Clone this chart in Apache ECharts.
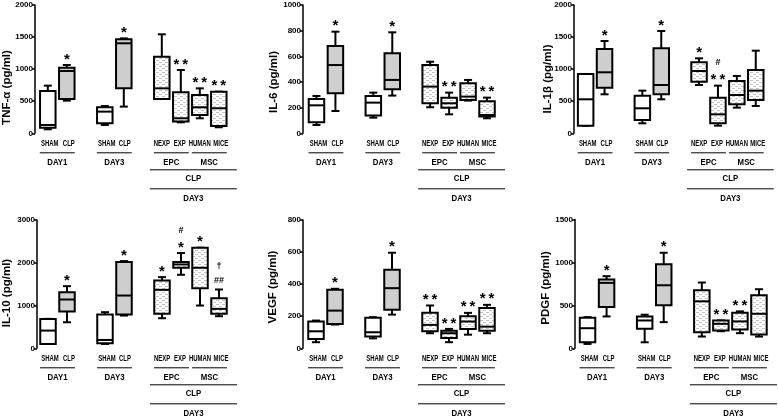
<!DOCTYPE html>
<html><head><meta charset="utf-8">
<script src="https://cdn.jsdelivr.net/npm/echarts@6/dist/echarts.min.js"></script>
<style>html,body{margin:0;padding:0;background:#fff}#c{width:778px;height:419px}</style>
</head><body><div id="c"></div>
<script>
// ---------- DATA ----------
const categories = ['SHAM','CLP','','SHAM','CLP','','NEXP','EXP','HUMAN','MICE'];
const groupSlots = [0,1,3,4,6,7,8,9];
// each box: [min, Q1, median, Q3, max]
const tnfBoxes = [[62,88,130,660,743],[509,535,971,1023,1065],[130,156,338,405,426],[416,701,1403,1465,1480],[535,535,701,1195,1543],[171,182,234,639,987],[234,286,405,597,701],[94,114,390,649,649]];
const tnfMarks = ['','*','','*','','**','**','**'];
const il6Boxes = [[65,86,218,268,291],[174,312,532,681,792],[122,138,239,291,317],[294,343,416,623,787],[203,234,364,532,558],[148,200,234,278,317],[255,260,286,390,416],[117,130,143,249,278]];
const il6Marks = ['','*','','*','','**','','**'];
const il1bBoxes = [[119,119,530,925,925],[608,712,951,1314,1439],[156,208,390,587,665],[530,608,753,1325,1595],[753,805,971,1106,1169],[119,156,296,556,743],[400,452,597,816,894],[426,519,665,987,1288]];
const il1bMarks = ['','*','','*','*','#\n**','',''];
const il10Boxes = [[102,102,414,688,688],[609,859,1141,1313,1453],[102,117,195,789,844],[766,789,1234,2016,2039],[703,805,1367,1586,1664],[1719,1883,1961,2016,2227],[1000,1406,1883,2352,2352],[750,805,922,1172,1375]];
const il10Marks = ['','*','','*','*','#\n*','*','\u2020\n##'];
const vegfBoxes = [[38,58,106,167,173],[148,152,235,365,371],[62,73,100,190,194],[210,240,375,490,596],[94,106,146,221,267],[38,65,94,110,121],[85,121,167,200,221],[94,110,135,252,271]];
const vegfMarks = ['','*','','*','**','**','**','**'];
const pdgfBoxes = [[51,70,234,355,363],[371,480,762,801,840],[70,227,324,371,391],[305,500,734,980,1113],[137,188,547,676,766],[199,207,285,324,324],[176,219,313,414,430],[137,160,402,617,688]];
const pdgfMarks = ['','*','','*','','**','**',''];
const titles = ['TNF-\u03b1 (pg/ml)','IL-6 (pg/ml)','IL-1\u03b2 (pg/ml)','IL-10 (pg/ml)','VEGF (pg/ml)','PDGF (pg/ml)'];
const yMax = [2000,1000,2000,3000,800,1500];
const yStep = [500,200,500,1000,200,500];
const pairLabels = ['DAY1','DAY3'];
const subLabels = ['EPC','MSC'];
const clpLabel = 'CLP';
const day3Label = 'DAY3';

// ---------- LAYOUT / STYLE ----------
const FONT = '"Liberation Sans",Arial,sans-serif';
const layout = [
  {left:38.3,width:190,top:5,height:128.3,axisX:35,tx:7,ty:87.5},
  {left:307,width:189.5,top:5,height:128.3,axisX:303,tx:274,ty:82},
  {left:576.2,width:189,top:5,height:128.3,axisX:574,tx:548,ty:79},
  {left:38.5,width:190,top:220,height:128.3,axisX:37,tx:7,ty:293},
  {left:306.5,width:190,top:220,height:128.3,axisX:303,tx:273,ty:287},
  {left:578,width:190.5,top:219.5,height:128.8,axisX:575,tx:546,ty:288}
];
const boxesAll = [tnfBoxes,il6Boxes,il1bBoxes,il10Boxes,vegfBoxes,pdgfBoxes];
const marksAll = [tnfMarks,il6Marks,il1bMarks,il10Marks,vegfMarks,pdgfMarks];
const slotFill = ['white','gray','', 'white','gray','', 'dot','dot','dot','dot'];
const labelShift = [2,2,0,2,1,0,0,-1,0,2];
const GRAY = '#cfcfcf';

function makePattern(){
  const c = document.createElement('canvas'); c.width = 6; c.height = 4;
  const g = c.getContext('2d');
  g.fillStyle = '#ffffff'; g.fillRect(0,0,6,4);
  g.fillStyle = '#c4c4c4'; g.fillRect(0,0,3,1); g.fillRect(3,2,3,1);
  return c;
}
const PATTERN = {image: makePattern(), repeat: 'repeat'};

function makeRender(marks){
  return function(params, api){
    const slot = api.value(0);
    const x = api.coord([slot, 0])[0];
    const ys = [1,2,3,4,5].map(d => api.coord([slot, api.value(d)])[1]);
    const yMin = ys[0], yQ1 = ys[1], yMed = ys[2], yQ3 = ys[3], yMx = ys[4];
    const bw = 15.5, cw = 8;
    const ls = {stroke:'#000', lineWidth:2};
    const f = slotFill[slot] === 'gray' ? GRAY : (slotFill[slot] === 'dot' ? PATTERN : '#fff');
    const children = [
      {type:'line', shape:{x1:x,y1:yQ3,x2:x,y2:yMx}, style:ls},
      {type:'line', shape:{x1:x,y1:yQ1,x2:x,y2:yMin}, style:ls},
      {type:'line', shape:{x1:x-cw/2,y1:yMx,x2:x+cw/2,y2:yMx}, style:ls},
      {type:'line', shape:{x1:x-cw/2,y1:yMin,x2:x+cw/2,y2:yMin}, style:ls},
      {type:'rect', shape:{x:x-bw/2,y:yQ3,width:bw,height:yQ1-yQ3}, style:{fill:f, stroke:'#000', lineWidth:2}},
      {type:'line', shape:{x1:x-bw/2,y1:yMed,x2:x+bw/2,y2:yMed}, style:ls}
    ];
    const lines = (marks[params.dataIndex] || '').split('\n').filter(Boolean).reverse();
    let cy = yMx - 9;
    lines.forEach(t => {
      const star = t.indexOf('*') >= 0;
      children.push({type:'text', x:x, y: star ? cy + 3.5 : cy,
        style:{text: star ? t.split('').join('\u2009') : t, font: star ? 'bold 15px ' + FONT : 'bold 9px ' + FONT,
               textAlign:'center', textVerticalAlign:'middle', fill:'#000'}});
      cy -= 14;
    });
    return {type:'group', children};
  };
}

const grids = [], xAxes = [], yAxes = [], series = [];
layout.forEach((L, i) => {
  grids.push({left:L.left, top:L.top, width:L.width, height:L.height, containLabel:false});
  xAxes.push({type:'category', gridIndex:i, data:categories, boundaryGap:true,
    axisLine:{show:false}, axisTick:{show:false}, splitLine:{show:false}, axisLabel:{show:false}});
  yAxes.push({type:'value', gridIndex:i, min:0, max:yMax[i], interval:yStep[i], offset:L.left - L.axisX,
    axisLine:{show:true, lineStyle:{color:'#000', width:1.5}},
    axisTick:{show:true, inside:false, length:3, lineStyle:{color:'#000', width:1.5}},
    splitLine:{show:false},
    axisLabel:{margin:2, color:'#000', fontFamily:FONT, fontWeight:'bold', fontSize:8, formatter: v => String(v)}});
  series.push({type:'custom', xAxisIndex:i, yAxisIndex:i, renderItem:makeRender(marksAll[i]),
    encode:{x:0, y:[1,2,3,4,5]}, silent:true, animation:false,
    data: boxesAll[i].map((b, k) => [groupSlots[k]].concat(b))});
});

const chart = echarts.init(document.getElementById('c'), null, {renderer:'canvas'});
chart.setOption({animation:false, backgroundColor:'#fff', grid:grids, xAxis:xAxes, yAxis:yAxes, series:series});

// ---------- category labels, titles, group brackets ----------
const gfx = [];
const lbl = (x, y, t, size, sx) => ({type:'text', x:x, y:y, scaleX:sx || 1, style:{text:t, font:'bold ' + size + 'px ' + FONT, textAlign:'center', textVerticalAlign:'middle', fill:'#000'}, silent:true});
const hline = (x1, x2, y) => ({type:'line', shape:{x1:x1, y1:y, x2:x2, y2:y}, style:{stroke:'#000', lineWidth:1}, silent:true});
layout.forEach((L, i) => {
  gfx.push({type:'text', x:L.tx, y:L.ty, rotation:Math.PI/2,
    style:{text:titles[i], font:'bold 11.5px ' + FONT, textAlign:'center', textVerticalAlign:'middle', fill:'#000'}, silent:true});
  const px = s => chart.convertToPixel({xAxisIndex:i}, s);
  const sp = px(1) - px(0);
  const b = L.top + L.height;
  categories.forEach((c, k) => { if (c) gfx.push(lbl(px(k) + labelShift[k], b + 10.5, c, 8.5, 0.7)); });
  [[0,1,pairLabels[0]],[3,4,pairLabels[1]],[6,7,subLabels[0]],[8,9,subLabels[1]]].forEach(([a, c, t]) => {
    gfx.push(hline(px(a) - 0.42*sp, px(c) + 0.42*sp, b + 19.5));
    gfx.push(lbl((px(a) + px(c))/2, b + 29, t, 8.5, 0.92));
  });
  const x1 = px(6) - 12, x2 = px(9) + 18;
  gfx.push(hline(x1, x2, b + 36.5));
  gfx.push(lbl((x1 + x2)/2, b + 45.5, clpLabel, 8.5, 0.92));
  gfx.push(hline(x1, x2, b + 55.5));
  gfx.push(lbl((x1 + x2)/2, b + 65, day3Label, 8.5, 0.92));
});
chart.setOption({graphic:{elements:gfx}});
</script></body></html>
